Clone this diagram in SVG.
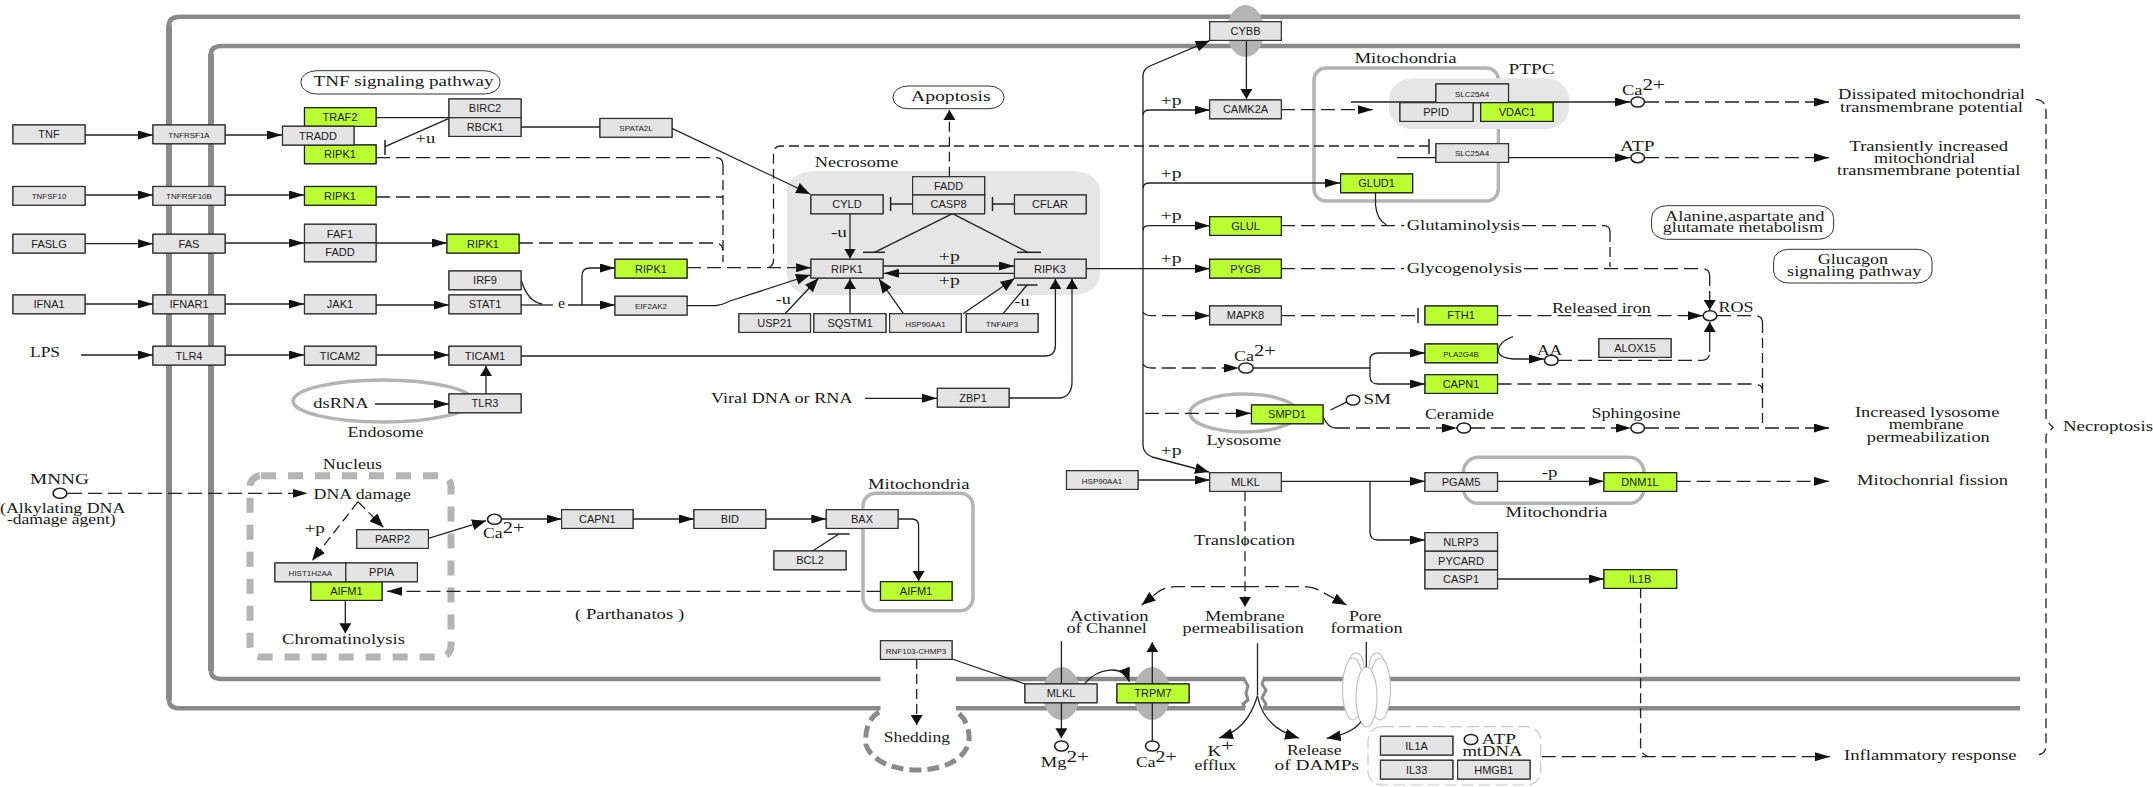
<svg xmlns="http://www.w3.org/2000/svg" width="2153" height="787" viewBox="0 0 2153 787">
<style>
text{fill:#1a1a1a}
.s{font:11px "Liberation Sans",Arial,sans-serif;text-anchor:middle}
.x{font:8px "Liberation Sans",Arial,sans-serif;text-anchor:middle}
.t{font:14px "Liberation Serif","Times New Roman",serif}
.sup{font-size:16px}
.b{fill:#e4e4e4;stroke:#333;stroke-width:1.2;filter:drop-shadow(.8px .8px 0 #111)}
.g{fill:#bbff33;stroke:#222;stroke-width:1.2;filter:drop-shadow(.8px .8px 0 #111)}
.mem{fill:none;stroke:#8a8a8a;stroke-width:4.5}
.memv{fill:none;stroke:#8a8a8a;stroke-width:6}
.comp{fill:none;stroke:#b4b4b4;stroke-width:3.5}
.bg{fill:#e6e6e6}
.prot{fill:#b4b4b4}
.path{fill:#fff;stroke:#333;stroke-width:1}
.c path,.c line{fill:none;stroke:#222;stroke-width:1.3}
.c .d{stroke-dasharray:14 6}
.c .v{stroke-dasharray:10 5}
.c .bar{stroke-width:1.5}
.dot{fill:#fff;stroke:#222;stroke-width:1.6}
.pore ellipse{fill:#fff;stroke:#bdbdbd;stroke-width:1.1}
</style>
<defs>
<marker id="h" markerUnits="userSpaceOnUse" viewBox="0 0 15 9" refX="15" refY="4.5" markerWidth="15" markerHeight="9" orient="auto"><path d="M0 0L15 4.5L0 9z" fill="#111"/></marker>
<marker id="u" markerUnits="userSpaceOnUse" viewBox="0 0 10 12" refX="10" refY="6" markerWidth="10" markerHeight="12" orient="auto"><path d="M0 0L10 6L0 12z" fill="#111"/></marker>
<marker id="a" markerUnits="userSpaceOnUse" viewBox="0 0 14 11" refX="14" refY="5.5" markerWidth="14" markerHeight="11" orient="auto"><path d="M0 0L14 5.5L0 11z" fill="#111"/></marker>
</defs>

<g id="membranes">
<path class="mem" d="M2020 16.7H180Q169 16.7 169 25V700Q169 708.3 180 708.3H880.5M956 708.3H1245M1263 708.3H2020"/>
<path class="mem" d="M2020 46H222Q211 46 211 54V671Q211 679 222 679H880.5M956 679H1245M1263 679H2020"/>
<path class="memv" d="M169 25V700M211 54V671"/>
<path fill="none" stroke="#8a8a8a" stroke-width="3" d="M1240 679H1244L1248 686L1246 693L1248 700L1243 704L1245 708M1268 679H1264L1262 684L1266 690L1262 698L1266 704L1264 708"/>
<path fill="none" stroke="#8a8a8a" stroke-width="5" stroke-dasharray="12 6" d="M879 712C866 720 865 735 866 745C872 762 895 770 917 770C940 770 962 762 968 745C971 735 968 720 957 712"/>
</g>

<g id="compartments">
<ellipse class="prot" cx="1245.5" cy="31" rx="18.5" ry="26"/>
<ellipse class="prot" cx="1061.5" cy="693.5" rx="18.5" ry="26.5"/>
<ellipse class="prot" cx="1152" cy="693.5" rx="18.5" ry="26.5"/>
<rect class="bg" x="787" y="171" width="313" height="124" rx="27" ry="20"/>
<rect class="comp" x="1314" y="68" width="184.4" height="133" rx="12"/>
<rect class="bg" x="1389" y="78.3" width="180" height="50.7" rx="24" ry="20"/>
<rect class="comp" x="863" y="493.3" width="110" height="117.4" rx="13"/>
<rect class="comp" x="1463.4" y="457.3" width="180.6" height="46" rx="15"/>
<ellipse class="comp" cx="383" cy="401" rx="90" ry="21"/>
<ellipse class="comp" cx="1244" cy="413" rx="54" ry="19"/>
<rect fill="none" stroke="#b4b4b4" stroke-width="7" stroke-dasharray="15 12" x="250" y="475.7" width="201" height="181.3" rx="11"/>
<rect fill="none" stroke="#c8c8c8" stroke-width="1.2" stroke-dasharray="12 5" x="1368" y="726.7" width="172.7" height="58.3" rx="14"/>
<g class="pore">
<ellipse cx="1356" cy="667" rx="8" ry="14"/>
<ellipse cx="1377" cy="667" rx="8" ry="14"/>
<ellipse cx="1353" cy="689" rx="10.5" ry="31"/>
<ellipse cx="1380" cy="689" rx="10.5" ry="31"/>
<ellipse cx="1366.5" cy="697" rx="10.5" ry="30"/>
</g>
</g>

<g id="connectors" class="c">
<path d="M85 135H153" marker-end="url(#h)"/>
<path d="M225 135H282" marker-end="url(#h)"/>
<path d="M376 117.7H449"/>
<path d="M449 118.3L385 146.7"/>
<path class="bar" d="M385 140V155"/>
<path d="M521 127H600"/>
<path d="M672 128.3L810 194" marker-end="url(#a)"/>
<path class="d" d="M376 157.7H716Q723 157.7 723 165"/>
<path class="v" d="M723 165V262"/>
<path class="d" d="M376 197H723"/>
<path class="d" d="M519 243H714Q723 243 723 251"/>
<path d="M85 195H153" marker-end="url(#h)"/>
<path d="M225 195H304" marker-end="url(#h)"/>
<path d="M85 243.7H153" marker-end="url(#h)"/>
<path d="M225 243H304" marker-end="url(#h)"/>
<path d="M376 243H447" marker-end="url(#h)"/>
<path d="M85 304H153" marker-end="url(#h)"/>
<path d="M225 304H304" marker-end="url(#h)"/>
<path d="M376 305H449" marker-end="url(#h)"/>
<path d="M521 305H553"/>
<path d="M521 280Q528 302 542 304"/>
<path d="M568 305H615" marker-end="url(#h)"/>
<path d="M582 305V276Q582 268 590 268H615" marker-end="url(#h)"/>
<path class="d" d="M687 267.7H811" marker-end="url(#h)"/>
<path class="v" d="M1429 146H781Q773.5 146 773.5 154V260Q773.5 267.7 765 267.7"/>
<path class="bar" d="M1429 139V154"/>
<path d="M81 355H153" marker-end="url(#h)"/>
<path d="M225 355H304" marker-end="url(#h)"/>
<path d="M376 355H449" marker-end="url(#h)"/>
<path d="M521 356H1045Q1055.4 356 1055.4 345V279" marker-end="url(#u)"/>
<path d="M486 394V366" marker-end="url(#u)"/>
<path d="M375 404H449" marker-end="url(#h)"/>
<path d="M865 398.3H937" marker-end="url(#h)"/>
<path d="M1009 398H1060Q1072 396 1072 382V279" marker-end="url(#u)"/>
<path d="M687 305.7H715Q722 305 730 301L810 275" marker-end="url(#a)"/>
<path d="M785 313.7L818.5 278.3" marker-end="url(#a)"/>
<path d="M850 313.7V279" marker-end="url(#u)"/>
<path d="M903.4 313.7L879 279" marker-end="url(#a)"/>
<path d="M963 313.7L1014.5 278.5" marker-end="url(#a)"/>
<path d="M1003 313.7L1027 285"/>
<path class="bar" d="M1017 285H1037.5"/>
<path d="M850 213.7V258.5" marker-end="url(#u)"/>
<path class="bar" d="M890.6 197V211M890.6 204H912.6"/>
<path class="bar" d="M992.5 197V211M992.5 204H1014.5"/>
<path d="M952.5 213.7L874.5 252.3"/>
<path class="bar" d="M863 252.3H885"/>
<path d="M952.5 213.7L1028 252.3"/>
<path class="bar" d="M1017 252.3H1041"/>
<path d="M883 266H1014" marker-end="url(#h)"/>
<path d="M1014 273.3H884" marker-end="url(#h)"/>
<path class="v" d="M949.4 176.7V110" marker-end="url(#u)"/>
<path d="M1086 268.7H1143"/>
<path d="M1143 445V76Q1143 69 1150 66"/>
<path d="M1143 445Q1143 453 1152 457"/>
<path d="M1150 66L1209.7 40.7" marker-end="url(#a)"/>
<path d="M1152 457L1209 472" marker-end="url(#a)"/>
<path d="M1143 115Q1143 110 1150 110H1209.7" marker-end="url(#h)"/>
<path d="M1143 188Q1143 183 1150 183H1340" marker-end="url(#h)"/>
<path d="M1143 230Q1143 225.7 1150 225.7H1209.7" marker-end="url(#h)"/>
<path d="M1143 268.7H1209.7" marker-end="url(#h)"/>
<path class="d" d="M1143 312Q1145 315.7 1152 315.7H1209.7" marker-end="url(#h)"/>
<path class="d" d="M1143 364Q1145 368 1152 368H1239" marker-end="url(#h)"/>
<path class="d" d="M1145 413.3H1251" marker-end="url(#h)"/>
<path d="M1246.4 40.3V99" marker-end="url(#u)"/>
<path class="d" d="M1281 109.7H1372.7" marker-end="url(#h)"/>
<path d="M1351 102H1630" marker-end="url(#h)"/>
<path class="d" d="M1645 102H1829" marker-end="url(#h)"/>
<path d="M1397 157.7H1436"/>
<path d="M1508.5 157.7H1630" marker-end="url(#h)"/>
<path class="d" d="M1645 157.7H1829" marker-end="url(#h)"/>
<path d="M1375.5 192.7V205Q1377 220 1386.5 225"/>
<path class="d" d="M1281 225.7H1404"/>
<path class="d" d="M1522 225.7H1604Q1610 226 1610 232"/>
<path class="v" d="M1610 232V267"/>
<path class="d" d="M1281 268.7H1404"/>
<path class="d" d="M1524 268.7H1702Q1709.7 269 1709.7 276"/>
<path class="v" d="M1709.7 276V310" marker-end="url(#u)"/>
<path class="d" d="M1281 315.7H1418"/>
<path class="bar" d="M1418 308V323"/>
<path class="d" d="M1497.5 315.7H1703" marker-end="url(#h)"/>
<path d="M1253 368H1370"/>
<path d="M1370 368V360Q1370 353 1378 353H1425" marker-end="url(#h)"/>
<path d="M1370 368V376Q1370 384 1378 384H1425" marker-end="url(#h)"/>
<path d="M1513 336.7Q1498 342 1498.4 352Q1500 358 1513 359H1544" marker-end="url(#h)"/>
<path class="d" d="M1558 360.3H1702Q1709.7 360 1709.7 352"/>
<path d="M1709.7 352V322" marker-end="url(#u)"/>
<path class="d" d="M1717 315.7H1755Q1762.5 316 1762.5 323"/>
<path class="v" d="M1762.5 323V423"/>
<path class="d" d="M1497.5 384H1755Q1762.5 385 1762.5 390"/>
<path d="M1323 416.7Q1328 428 1336 428"/>
<path class="d" d="M1336 428H1457" marker-end="url(#h)"/>
<path class="d" d="M1471 428H1631" marker-end="url(#h)"/>
<path class="d" d="M1645 428H1829" marker-end="url(#h)"/>
<path d="M1330.5 410L1347.5 401.7"/>
<path class="v" d="M2036 99.3Q2046 100 2046 112V420L2053 427.5L2046 435V745Q2046 755 2036 755"/>
<path d="M1281 481.3H1425" marker-end="url(#h)"/>
<path d="M1370 481.3V532Q1370 540 1378 540H1425" marker-end="url(#h)"/>
<path d="M1497.5 481.3H1604" marker-end="url(#h)"/>
<path class="d" d="M1676.6 481.3H1829" marker-end="url(#h)"/>
<path d="M1497.5 579H1604" marker-end="url(#h)"/>
<path class="v" d="M1640.6 588.3V748Q1641 754 1648 756.7"/>
<path class="d" d="M1541.7 756.7H1830" marker-end="url(#h)"/>
<path d="M1138 480H1209.7" marker-end="url(#h)"/>
<path class="v" d="M1245 491.3V606.7" marker-end="url(#u)"/>
<path class="d" d="M1245 586.7H1175Q1165 587 1158 592L1141.7 605" marker-end="url(#a)"/>
<path class="d" d="M1245 586.7H1305Q1315 587 1322 592L1346.5 605" marker-end="url(#a)"/>
<path d="M898 519H912Q918.6 519 918.6 526V581" marker-end="url(#u)"/>
<path d="M812.5 551L839 534"/>
<path class="bar" d="M827.7 534H849.7"/>
<path d="M765.7 519H826.3" marker-end="url(#h)"/>
<path d="M633 519H694" marker-end="url(#h)"/>
<path d="M502 519H561.6" marker-end="url(#h)"/>
<path d="M428.4 538.3L486 520.7" marker-end="url(#a)"/>
<path class="d" d="M68 493.3H307.6" marker-end="url(#h)"/>
<path class="v" d="M358 501.7L383.4 527.3" marker-end="url(#a)"/>
<path class="v" d="M358 501.7L312 560.7" marker-end="url(#a)"/>
<path d="M345.3 600.3V633.3" marker-end="url(#u)"/>
<path class="d" d="M880.5 591.3H387" marker-end="url(#h)"/>
<path d="M1061.4 641.3V684"/>
<path d="M1061.4 702.5V738.3" marker-end="url(#u)"/>
<path d="M1152.3 684V642.3" marker-end="url(#u)"/>
<path d="M1152.3 741V702.5"/>
<path d="M1084.8 683.3C1098 668 1123 664 1129.4 681.7" marker-end="url(#a)"/>
<path d="M1257.5 643.3V695.7"/>
<path d="M1257.5 696C1250 720 1238 732 1219 738" marker-end="url(#a)"/>
<path d="M1257.5 696C1262 720 1278 732 1299 738" marker-end="url(#a)"/>
<path d="M1366.3 642V667.3"/>
<path d="M1361 721.7C1355 730 1345 735 1326.8 738.3" marker-end="url(#a)"/>
<path d="M952 659L1025 684"/>
<path class="v" d="M916.7 659V725" marker-end="url(#u)"/>
</g>

<g id="metabolites">
<ellipse class="dot" cx="1246" cy="368" rx="7.3" ry="5"/>
<ellipse class="dot" cx="1637.7" cy="102" rx="6.8" ry="5"/>
<ellipse class="dot" cx="1637.7" cy="157.7" rx="6.8" ry="5"/>
<ellipse class="dot" cx="1710" cy="315.7" rx="6.8" ry="5"/>
<ellipse class="dot" cx="1551.3" cy="360.3" rx="6.8" ry="5"/>
<ellipse class="dot" cx="1463.9" cy="428" rx="6.8" ry="5"/>
<ellipse class="dot" cx="1637.7" cy="428" rx="6.8" ry="5"/>
<ellipse class="dot" cx="1353" cy="400" rx="6.8" ry="5"/>
<ellipse class="dot" cx="60" cy="493.3" rx="7" ry="5"/>
<ellipse class="dot" cx="494.5" cy="519.3" rx="7" ry="5"/>
<ellipse class="dot" cx="1061.4" cy="746" rx="6.8" ry="5"/>
<ellipse class="dot" cx="1152.3" cy="746" rx="6.8" ry="5"/>
<ellipse class="dot" cx="1471" cy="739.5" rx="6.8" ry="5"/>
</g>

<g id="n1"><rect class="b" x="13" y="125" width="72" height="18.7"/><text class="s" x="49" y="138.4">TNF</text></g>
<g id="n2"><rect class="b" x="153" y="125" width="72" height="18.7"/><text class="x" x="189" y="138">TNFRSF1A</text></g>
<g id="n3"><rect class="g" x="304.5" y="107.7" width="71.5" height="18.7"/><text class="s" x="340" y="121">TRAF2</text></g>
<g id="n5"><rect class="g" x="304.5" y="145" width="71.5" height="18.7"/><text class="s" x="340" y="158.4">RIPK1</text></g>
<g id="n4"><rect class="b" x="282.5" y="126.3" width="71.5" height="18.7"/><text class="s" x="318" y="139.7">TRADD</text></g>
<g id="n6"><rect class="b" x="449" y="99" width="72" height="18.7"/><text class="s" x="485" y="112.4">BIRC2</text></g>
<g id="n7"><rect class="b" x="449" y="117.7" width="72" height="18.7"/><text class="s" x="485" y="131">RBCK1</text></g>
<g id="n8"><rect class="b" x="600" y="118.5" width="72" height="18.7"/><text class="x" x="636" y="131">SPATA2L</text></g>
<g id="n9"><rect class="b" x="13" y="186.5" width="72" height="18.7"/><text class="x" x="49" y="199">TNFSF10</text></g>
<g id="n10"><rect class="b" x="153" y="186.5" width="72" height="18.7"/><text class="x" x="189" y="199">TNFRSF10B</text></g>
<g id="n11"><rect class="g" x="304.5" y="186.5" width="71.5" height="18.7"/><text class="s" x="340" y="200">RIPK1</text></g>
<g id="n12"><rect class="b" x="13" y="234.3" width="72" height="18.7"/><text class="s" x="49" y="247.7">FASLG</text></g>
<g id="n13"><rect class="b" x="153" y="234.3" width="72" height="18.7"/><text class="s" x="189" y="247.7">FAS</text></g>
<g id="n14"><rect class="b" x="304.5" y="224.3" width="71.5" height="18.7"/><text class="s" x="340" y="237.7">FAF1</text></g>
<g id="n15"><rect class="b" x="304.5" y="243" width="71.5" height="18.7"/><text class="s" x="340" y="256.4">FADD</text></g>
<g id="n16"><rect class="g" x="447" y="234.3" width="72" height="18.7"/><text class="s" x="483" y="247.7">RIPK1</text></g>
<g id="n17"><rect class="g" x="615" y="259.3" width="72" height="18.7"/><text class="s" x="651" y="272.7">RIPK1</text></g>
<g id="n18"><rect class="b" x="449" y="271" width="72" height="18.7"/><text class="s" x="485" y="284.4">IRF9</text></g>
<g id="n19"><rect class="b" x="449" y="295" width="72" height="18.7"/><text class="s" x="485" y="308.4">STAT1</text></g>
<g id="n20"><rect class="b" x="13" y="295" width="72" height="18.7"/><text class="s" x="49" y="308.4">IFNA1</text></g>
<g id="n21"><rect class="b" x="153" y="295" width="72" height="18.7"/><text class="s" x="189" y="308.4">IFNAR1</text></g>
<g id="n22"><rect class="b" x="304.5" y="295" width="71.5" height="18.7"/><text class="s" x="340" y="308.4">JAK1</text></g>
<g id="n23"><rect class="b" x="615" y="296.3" width="72" height="18.7"/><text class="x" x="651" y="309">EIF2AK2</text></g>
<g id="n24"><rect class="b" x="153" y="346.3" width="72" height="18.7"/><text class="s" x="189" y="360">TLR4</text></g>
<g id="n25"><rect class="b" x="304.5" y="346.3" width="71.5" height="18.7"/><text class="s" x="340" y="360">TICAM2</text></g>
<g id="n26"><rect class="b" x="449" y="346.3" width="72" height="18.7"/><text class="s" x="485" y="360">TICAM1</text></g>
<g id="n27"><rect class="b" x="449" y="394" width="72" height="18.7"/><text class="s" x="485" y="407.4">TLR3</text></g>
<g id="n28"><rect class="b" x="1209.7" y="21.7" width="71.6" height="18.7"/><text class="s" x="1245.5" y="35">CYBB</text></g>
<g id="n29"><rect class="b" x="1209.7" y="100" width="71.6" height="18.7"/><text class="s" x="1245.5" y="113.4">CAMK2A</text></g>
<g id="n30"><rect class="g" x="1340.6" y="174" width="72" height="18.7"/><text class="s" x="1376.6" y="187.4">GLUD1</text></g>
<g id="n31"><rect class="g" x="1209.7" y="216.7" width="71.6" height="18.7"/><text class="s" x="1245.5" y="230">GLUL</text></g>
<g id="n32"><rect class="g" x="1209.7" y="259.3" width="71.6" height="18.7"/><text class="s" x="1245.5" y="272.7">PYGB</text></g>
<g id="n33"><rect class="b" x="1209.7" y="306" width="71.6" height="18.7"/><text class="s" x="1245.5" y="319.4">MAPK8</text></g>
<g id="n34"><rect class="b" x="811" y="259.3" width="72" height="18.7"/><text class="s" x="847" y="272.7">RIPK1</text></g>
<g id="n35"><rect class="b" x="1014.5" y="259.3" width="71.6" height="18.7"/><text class="s" x="1050" y="272.7">RIPK3</text></g>
<g id="n36"><rect class="b" x="811" y="195" width="72" height="18.7"/><text class="s" x="847" y="208.4">CYLD</text></g>
<g id="n37"><rect class="b" x="912.6" y="176.7" width="72" height="18.7"/><text class="s" x="948.6" y="190">FADD</text></g>
<g id="n38"><rect class="b" x="912.6" y="195" width="72" height="18.7"/><text class="s" x="948.6" y="208.4">CASP8</text></g>
<g id="n39"><rect class="b" x="1014.5" y="195" width="71.6" height="18.7"/><text class="s" x="1050" y="208.4">CFLAR</text></g>
<g id="n40"><rect class="b" x="739" y="313.7" width="71.5" height="18.7"/><text class="s" x="774.7" y="327">USP21</text></g>
<g id="n41"><rect class="b" x="813.9" y="313.7" width="72" height="18.7"/><text class="s" x="850" y="327">SQSTM1</text></g>
<g id="n42"><rect class="b" x="889.6" y="313.7" width="71.7" height="18.7"/><text class="x" x="925.4" y="326.5">HSP90AA1</text></g>
<g id="n43"><rect class="b" x="966.3" y="313.7" width="71.7" height="18.7"/><text class="x" x="1002" y="326.5">TNFAIP3</text></g>
<g id="n44"><rect class="b" x="937.4" y="388.4" width="71.6" height="18.7"/><text class="s" x="973" y="401.8">ZBP1</text></g>
<g id="n45"><rect class="b" x="1436" y="84" width="72.5" height="18.7"/><text class="x" x="1472" y="96.5">SLC25A4</text></g>
<g id="n46"><rect class="b" x="1400" y="102.7" width="73" height="18.7"/><text class="s" x="1436" y="116">PPID</text></g>
<g id="n47"><rect class="g" x="1480.7" y="102.7" width="72.3" height="18.7"/><text class="s" x="1517" y="116">VDAC1</text></g>
<g id="n48"><rect class="b" x="1436" y="143.7" width="72.5" height="18.7"/><text class="x" x="1472" y="156">SLC25A4</text></g>
<g id="n49"><rect class="g" x="1425" y="306" width="72.5" height="18.7"/><text class="s" x="1461" y="319.4">FTH1</text></g>
<g id="n50"><rect class="g" x="1425" y="344" width="72.5" height="18.7"/><text class="x" x="1461" y="356.5">PLA2G4B</text></g>
<g id="n51"><rect class="g" x="1425" y="374.7" width="72.5" height="18.7"/><text class="s" x="1461" y="388">CAPN1</text></g>
<g id="n52"><rect class="b" x="1599" y="338.7" width="72" height="18.7"/><text class="s" x="1635" y="352">ALOX15</text></g>
<g id="n53"><rect class="b" x="1425" y="472.7" width="72.5" height="18.7"/><text class="s" x="1461" y="486">PGAM5</text></g>
<g id="n54"><rect class="g" x="1604" y="472.7" width="72.6" height="18.7"/><text class="s" x="1640" y="486">DNM1L</text></g>
<g id="n55"><rect class="b" x="1425" y="532.7" width="72.5" height="18.7"/><text class="s" x="1461" y="546">NLRP3</text></g>
<g id="n56"><rect class="b" x="1425" y="551.3" width="72.5" height="18.7"/><text class="s" x="1461" y="564.7">PYCARD</text></g>
<g id="n57"><rect class="b" x="1425" y="570" width="72.5" height="18.7"/><text class="s" x="1461" y="583.4">CASP1</text></g>
<g id="n58"><rect class="g" x="1604" y="569.7" width="72.6" height="18.7"/><text class="s" x="1640" y="583">IL1B</text></g>
<g id="n59"><rect class="b" x="1380.5" y="736.3" width="72.3" height="18.7"/><text class="s" x="1416.6" y="749.7">IL1A</text></g>
<g id="n60"><rect class="b" x="1380.5" y="760.3" width="72.3" height="18.7"/><text class="s" x="1416.6" y="773.7">IL33</text></g>
<g id="n61"><rect class="b" x="1457.6" y="760.3" width="72.4" height="18.7"/><text class="s" x="1493.8" y="773.7">HMGB1</text></g>
<g id="n62"><rect class="b" x="1209.7" y="472.7" width="71.6" height="18.7"/><text class="s" x="1245.5" y="486">MLKL</text></g>
<g id="n63"><rect class="b" x="1066.5" y="470.7" width="71.5" height="18.7"/><text class="x" x="1102" y="483.5">HSP90AA1</text></g>
<g id="n64"><rect class="g" x="1251.5" y="405" width="71.5" height="18.7"/><text class="s" x="1287" y="418.4">SMPD1</text></g>
<g id="n65"><rect class="b" x="826.3" y="509.7" width="71.7" height="18.7"/><text class="s" x="862" y="523">BAX</text></g>
<g id="n66"><rect class="b" x="694" y="509.7" width="71.7" height="18.7"/><text class="s" x="729.8" y="523">BID</text></g>
<g id="n67"><rect class="b" x="561.6" y="509.7" width="71.4" height="18.7"/><text class="s" x="597.3" y="523">CAPN1</text></g>
<g id="n68"><rect class="b" x="774" y="551" width="72" height="18.7"/><text class="s" x="810" y="564.4">BCL2</text></g>
<g id="n69"><rect class="g" x="880.5" y="581.7" width="71.5" height="18.7"/><text class="s" x="916" y="595">AIFM1</text></g>
<g id="n70"><rect class="g" x="310.9" y="581.7" width="71.1" height="18.7"/><text class="s" x="346.4" y="595">AIFM1</text></g>
<g id="n71"><rect class="b" x="275" y="563" width="70.8" height="18.7"/><text class="x" x="310.4" y="575.5">HIST1H2AA</text></g>
<g id="n72"><rect class="b" x="345.8" y="563" width="71.6" height="18.7"/><text class="s" x="381.6" y="576.4">PPIA</text></g>
<g id="n73"><rect class="b" x="356.8" y="529.7" width="71.6" height="18.7"/><text class="s" x="392.6" y="543">PARP2</text></g>
<g id="n74"><rect class="b" x="880.5" y="640.7" width="71.5" height="18.7"/><text class="x" x="916" y="653.5">RNF103-CHMP3</text></g>
<g id="n75"><rect class="b" x="1025" y="684" width="72" height="18.7"/><text class="s" x="1061" y="697.4">MLKL</text></g>
<g id="n76"><rect class="g" x="1117" y="684" width="72" height="18.7"/><text class="s" x="1153" y="697.4">TRPM7</text></g>

<g id="pathways">
<rect class="path" x="301" y="70.7" width="199" height="23.3" rx="16" ry="11"/>
<rect class="path" x="893" y="86" width="111" height="22.7" rx="15" ry="11"/>
<rect class="path" x="1651.6" y="205.7" width="182" height="33.6" rx="15" ry="12"/>
<rect class="path" x="1773.6" y="249.3" width="158.4" height="33.7" rx="15" ry="12"/>
</g>

<g id="labels">
<text class="t" x="313.6" y="86" textLength="180" lengthAdjust="spacingAndGlyphs">TNF signaling  pathway</text>
<text class="t" x="30" y="357" textLength="30" lengthAdjust="spacingAndGlyphs">LPS</text>
<text class="t" x="415.6" y="143.3" textLength="19.7" lengthAdjust="spacingAndGlyphs">+u</text>
<text class="t" x="558" y="308" textLength="7" lengthAdjust="spacingAndGlyphs">e</text>
<text class="t" x="911" y="100.7" textLength="79.7" lengthAdjust="spacingAndGlyphs">Apoptosis</text>
<text class="t" x="814.8" y="166.7" textLength="83.6" lengthAdjust="spacingAndGlyphs">Necrosome</text>
<text class="t" x="938.8" y="260.7" textLength="21" lengthAdjust="spacingAndGlyphs">+p</text>
<text class="t" x="938.8" y="285" textLength="21" lengthAdjust="spacingAndGlyphs">+p</text>
<text class="t" x="830.9" y="236.7" textLength="16" lengthAdjust="spacingAndGlyphs">-u</text>
<text class="t" x="775.8" y="304" textLength="15" lengthAdjust="spacingAndGlyphs">-u</text>
<text class="t" x="1014.5" y="306" textLength="15" lengthAdjust="spacingAndGlyphs">-u</text>
<text class="t" x="1160.6" y="105" textLength="21" lengthAdjust="spacingAndGlyphs">+p</text>
<text class="t" x="1160.6" y="177.7" textLength="21" lengthAdjust="spacingAndGlyphs">+p</text>
<text class="t" x="1160.6" y="220" textLength="21" lengthAdjust="spacingAndGlyphs">+p</text>
<text class="t" x="1160.6" y="263.3" textLength="21" lengthAdjust="spacingAndGlyphs">+p</text>
<text class="t" x="1160.6" y="455" textLength="21" lengthAdjust="spacingAndGlyphs">+p</text>
<text class="t" x="711" y="403.3" textLength="141.5" lengthAdjust="spacingAndGlyphs">Viral DNA or RNA</text>
<text class="t" x="1234" y="360.7" textLength="42" lengthAdjust="spacingAndGlyphs">Ca<tspan class="sup" dy="-5">2+</tspan></text>
<text class="t" x="1354.4" y="63.3" textLength="102.3" lengthAdjust="spacingAndGlyphs">Mitochondria</text>
<text class="t" x="1508.5" y="74" textLength="46" lengthAdjust="spacingAndGlyphs">PTPC</text>
<text class="t" x="1622" y="95" textLength="43" lengthAdjust="spacingAndGlyphs">Ca<tspan class="sup" dy="-5">2+</tspan></text>
<text class="t" x="1620" y="150.7" textLength="34.5" lengthAdjust="spacingAndGlyphs">ATP</text>
<text class="t" x="1838" y="99.3" textLength="187" lengthAdjust="spacingAndGlyphs">Dissipated mitochondrial</text>
<text class="t" x="1840" y="111.7" textLength="183" lengthAdjust="spacingAndGlyphs">transmembrane potential</text>
<text class="t" x="1849.5" y="150.7" textLength="158.5" lengthAdjust="spacingAndGlyphs">Transiently increased</text>
<text class="t" x="1874" y="162.7" textLength="101" lengthAdjust="spacingAndGlyphs">mitochondrial</text>
<text class="t" x="1837" y="175" textLength="183.4" lengthAdjust="spacingAndGlyphs">transmembrane potential</text>
<text class="t" x="1406.7" y="230" textLength="113.3" lengthAdjust="spacingAndGlyphs">Glutaminolysis</text>
<text class="t" x="1406.7" y="273" textLength="115.3" lengthAdjust="spacingAndGlyphs">Glycogenolysis</text>
<text class="t" x="1665" y="220.7" textLength="159.5" lengthAdjust="spacingAndGlyphs">Alanine,aspartate and</text>
<text class="t" x="1662.7" y="232.3" textLength="160.3" lengthAdjust="spacingAndGlyphs">glutamate metabolism</text>
<text class="t" x="1817.8" y="264" textLength="70.2" lengthAdjust="spacingAndGlyphs">Glucagon</text>
<text class="t" x="1787" y="276" textLength="134.5" lengthAdjust="spacingAndGlyphs">signaling pathway</text>
<text class="t" x="1552" y="312.7" textLength="98.7" lengthAdjust="spacingAndGlyphs">Released iron</text>
<text class="t" x="1718.4" y="311.7" textLength="35" lengthAdjust="spacingAndGlyphs">ROS</text>
<text class="t" x="1536.9" y="355" textLength="25.4" lengthAdjust="spacingAndGlyphs">AA</text>
<text class="t" x="1425" y="419.3" textLength="69" lengthAdjust="spacingAndGlyphs">Ceramide</text>
<text class="t" x="1591.6" y="418.3" textLength="88.8" lengthAdjust="spacingAndGlyphs">Sphingosine</text>
<text class="t" x="1855" y="417.3" textLength="144.3" lengthAdjust="spacingAndGlyphs">Increased lysosome</text>
<text class="t" x="1888.8" y="429.3" textLength="74.9" lengthAdjust="spacingAndGlyphs">membrane</text>
<text class="t" x="1866.8" y="441.7" textLength="122.9" lengthAdjust="spacingAndGlyphs">permeabilization</text>
<text class="t" x="2063" y="430.7" textLength="90" lengthAdjust="spacingAndGlyphs">Necroptosis</text>
<text class="t" x="1857" y="485" textLength="151" lengthAdjust="spacingAndGlyphs">Mitochonrial fission</text>
<text class="t" x="1505.6" y="516.7" textLength="101.8" lengthAdjust="spacingAndGlyphs">Mitochondria</text>
<text class="t" x="1541.7" y="477.3" textLength="15.8" lengthAdjust="spacingAndGlyphs">-p</text>
<text class="t" x="1844" y="760" textLength="172.6" lengthAdjust="spacingAndGlyphs">Inflammatory response</text>
<text class="t" x="1481.6" y="744" textLength="34.4" lengthAdjust="spacingAndGlyphs">ATP</text>
<text class="t" x="1462.4" y="756" textLength="60" lengthAdjust="spacingAndGlyphs">mtDNA</text>
<text class="t" x="1363.5" y="404.3" textLength="27.5" lengthAdjust="spacingAndGlyphs">SM</text>
<text class="t" x="1206.5" y="445" textLength="74.8" lengthAdjust="spacingAndGlyphs">Lysosome</text>
<text class="t" x="1194" y="545" textLength="101" lengthAdjust="spacingAndGlyphs">Translocation</text>
<text class="t" x="1070" y="621" textLength="78.6" lengthAdjust="spacingAndGlyphs">Activation</text>
<text class="t" x="1066.4" y="633.3" textLength="80.4" lengthAdjust="spacingAndGlyphs">of Channel</text>
<text class="t" x="1205" y="621" textLength="79.6" lengthAdjust="spacingAndGlyphs">Membrane</text>
<text class="t" x="1182.6" y="633.3" textLength="121.2" lengthAdjust="spacingAndGlyphs">permeabilisation</text>
<text class="t" x="1348.9" y="621" textLength="32.6" lengthAdjust="spacingAndGlyphs">Pore</text>
<text class="t" x="1330.5" y="633.3" textLength="72.1" lengthAdjust="spacingAndGlyphs">formation</text>
<text class="t" x="868" y="489.3" textLength="101.5" lengthAdjust="spacingAndGlyphs">Mitochondria</text>
<text class="t" x="883.7" y="741.7" textLength="66.3" lengthAdjust="spacingAndGlyphs">Shedding</text>
<text class="t" x="1040.7" y="766.7" textLength="48.3" lengthAdjust="spacingAndGlyphs">Mg<tspan class="sup" dy="-5">2+</tspan></text>
<text class="t" x="1136" y="766.7" textLength="40.7" lengthAdjust="spacingAndGlyphs">Ca<tspan class="sup" dy="-5">2+</tspan></text>
<text class="t" x="1207.4" y="756" textLength="26.2" lengthAdjust="spacingAndGlyphs">K<tspan class="sup" dy="-5">+</tspan></text>
<text class="t" x="1194.5" y="770" textLength="41.8" lengthAdjust="spacingAndGlyphs">efflux</text>
<text class="t" x="1286.9" y="755" textLength="54.6" lengthAdjust="spacingAndGlyphs">Release</text>
<text class="t" x="1274.5" y="770" textLength="84.5" lengthAdjust="spacingAndGlyphs">of DAMPs</text>
<text class="t" x="347.6" y="436.7" textLength="75.8" lengthAdjust="spacingAndGlyphs">Endosome</text>
<text class="t" x="313.2" y="408.3" textLength="55.5" lengthAdjust="spacingAndGlyphs">dsRNA</text>
<text class="t" x="322.8" y="469.3" textLength="59.2" lengthAdjust="spacingAndGlyphs">Nucleus</text>
<text class="t" x="30" y="484" textLength="59" lengthAdjust="spacingAndGlyphs">MNNG</text>
<text class="t" x="0" y="512.7" textLength="125.4" lengthAdjust="spacingAndGlyphs">(Alkylating DNA</text>
<text class="t" x="6.9" y="524.3" textLength="108.8" lengthAdjust="spacingAndGlyphs">-damage agent)</text>
<text class="t" x="313.6" y="499.3" textLength="97.4" lengthAdjust="spacingAndGlyphs">DNA damage</text>
<text class="t" x="304.5" y="533.3" textLength="20.5" lengthAdjust="spacingAndGlyphs">+p</text>
<text class="t" x="483" y="538.3" textLength="41.4" lengthAdjust="spacingAndGlyphs">Ca<tspan class="sup" dy="-5">2+</tspan></text>
<text class="t" x="282" y="644.3" textLength="123" lengthAdjust="spacingAndGlyphs">Chromatinolysis</text>
<text class="t" x="575" y="619.3" textLength="109.2" lengthAdjust="spacingAndGlyphs">( Parthanatos )</text>
</g>
</svg>
